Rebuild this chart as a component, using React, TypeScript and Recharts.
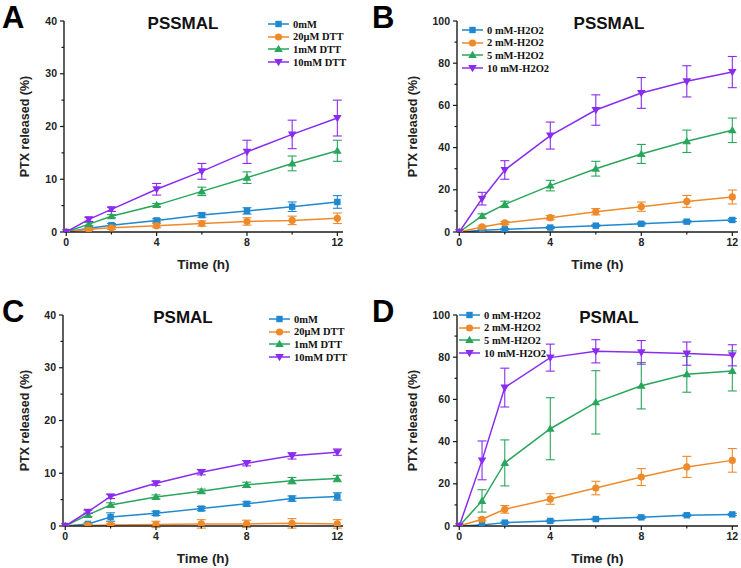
import React from "react"
import { LineChart, Line, XAxis, YAxis, ErrorBar } from "recharts"

const TIMES = [0, 1, 2, 4, 6, 8, 10, 12]

const DTT_LABELS = ["0mM", "20\u03bcM DTT", "1mM DTT", "10mM DTT"]
const H2O2_LABELS = ["0 mM-H2O2", "2 mM-H2O2", "5 mM-H2O2", "10 mM-H2O2"]

const COLORS = ["#1f88cf", "#ee8a2a", "#2aa65c", "#8a2cf0"]
const SHAPES = ["square", "circle", "up", "down"]

// A: PSSMAL + DTT
const A_0 = [0, 0.7, 1.3, 2.2, 3.2, 4.0, 4.8, 5.7]
const A_0_ERR = [0, 0.2, 0.3, 0.3, 0.4, 0.6, 0.9, 1.2]
const A_20U = [0, 0.5, 0.8, 1.2, 1.6, 2.0, 2.2, 2.6]
const A_20U_ERR = [0, 0.2, 0.3, 0.4, 0.5, 0.7, 0.8, 1.0]
const A_1M = [0, 1.5, 3.0, 5.1, 7.7, 10.3, 13.0, 15.4]
const A_1M_ERR = [0, 0.3, 0.3, 0.3, 0.8, 1.1, 1.4, 2.0]
const A_10M = [0, 2.4, 4.3, 8.1, 11.5, 15.2, 18.5, 21.6]
const A_10M_ERR = [0, 0.4, 0.4, 1.1, 1.5, 2.2, 2.7, 3.4]

// B: PSSMAL + H2O2
const B_0 = [0, 0.8, 1.3, 2.1, 3.0, 3.9, 4.9, 5.7]
const B_0_ERR = [0, 0.2, 0.3, 0.4, 0.4, 0.5, 0.6, 0.7]
const B_2 = [0, 2.4, 4.3, 6.8, 9.6, 12.0, 14.5, 16.6]
const B_2_ERR = [0, 0.5, 0.7, 1.0, 1.5, 2.2, 2.8, 3.3]
const B_5 = [0, 7.6, 13.1, 22.0, 30.0, 37.0, 43.0, 48.2]
const B_5_ERR = [0, 1.0, 1.5, 2.5, 3.5, 4.5, 5.3, 5.8]
const B_10 = [0, 15.8, 29.4, 45.7, 57.8, 65.9, 71.4, 75.8]
const B_10_ERR = [0, 3.0, 4.4, 6.4, 7.2, 7.3, 7.4, 7.4]

// C: PSMAL + DTT
const C_0 = [0, 0.4, 1.7, 2.4, 3.3, 4.2, 5.2, 5.6]
const C_0_ERR = [0, 0.2, 0.8, 0.4, 0.4, 0.4, 0.5, 0.7]
const C_20U = [0, 0.1, 0.2, 0.3, 0.4, 0.4, 0.5, 0.4]
const C_20U_ERR = [0, 0.2, 0.3, 0.6, 0.8, 0.7, 0.9, 0.8]
const C_1M = [0, 2.1, 4.0, 5.5, 6.6, 7.8, 8.6, 9.0]
const C_1M_ERR = [0, 0.3, 0.4, 0.4, 0.4, 0.5, 0.6, 0.6]
const C_10M = [0, 2.7, 5.6, 8.1, 10.2, 11.9, 13.3, 14.0]
const C_10M_ERR = [0, 0.3, 0.4, 0.4, 0.5, 0.5, 0.6, 0.6]

// D: PSMAL + H2O2
const D_0 = [0, 0.5, 1.6, 2.4, 3.3, 4.1, 5.1, 5.5]
const D_0_ERR = [0, 0.2, 0.3, 0.4, 0.4, 0.5, 0.5, 0.5]
const D_2 = [0, 3.2, 7.9, 12.8, 18.0, 23.2, 28.0, 31.1]
const D_2_ERR = [0, 0.8, 1.8, 2.5, 3.2, 4.0, 5.0, 5.6]
const D_5 = [0, 11.9, 29.9, 46.1, 58.6, 66.5, 71.9, 73.5]
const D_5_ERR = [0, 5.3, 10.9, 14.7, 15.0, 11.0, 8.5, 9.5]
const D_10 = [0, 31.1, 65.6, 79.8, 82.8, 82.3, 81.7, 80.9]
const D_10_ERR = [0, 9.2, 9.2, 6.4, 5.5, 5.6, 5.5, 5.0]

const SANS = "'Liberation Sans', Arial, sans-serif"
const SERIF = "'Liberation Serif', 'Times New Roman', serif"
const AXIS = "#1a1a1a"

function buildRows(series: number[][], errs: number[][]) {
  return TIMES.map((t, i) => {
    const row: Record<string, number> = { t }
    series.forEach((s, k) => {
      row[`s${k}`] = s[i]
      row[`e${k}`] = errs[k][i]
    })
    return row
  })
}

function Marker({ shape, cx, cy, color }: { shape: string; cx: number; cy: number; color: string }) {
  if (shape === "square")
    return <rect x={cx - 3.2} y={cy - 3.2} width={6.4} height={6.4} fill={color} />
  if (shape === "circle") return <circle cx={cx} cy={cy} r={3.6} fill={color} />
  if (shape === "up")
    return <path d={`M${cx},${cy - 4.3} L${cx + 4.3},${cy + 3} L${cx - 4.3},${cy + 3} Z`} fill={color} />
  return <path d={`M${cx},${cy + 4.3} L${cx + 4.3},${cy - 3} L${cx - 4.3},${cy - 3} Z`} fill={color} />
}

interface PanelProps {
  letter: string
  title: string
  labels: string[]
  series: number[][]
  errs: number[][]
  yMax: number
  yStep: number
  left: number
  top: number
  width: number
  height: number
  plotLeft: number
  plotRight: number
  legendX: number
  legendY: number
  titleX: number
  yLabelX: number
}

function Panel(p: PanelProps) {
  const rows = buildRows(p.series, p.errs)
  const yTicks: number[] = []
  for (let v = 0; v <= p.yMax; v += p.yStep / 2) yTicks.push(v)
  const xTicks = [0, 2, 4, 6, 8, 10, 12]
  const plotTop = 21
  const plotBottom = 232
  const yAxisWidth = p.plotLeft - 16
  const xAxisHeight = p.height - plotBottom

  const yTick = (props: any) => {
    const { x, y, payload } = props
    const major = payload.value % p.yStep === 0
    return (
      <g>
        <line x1={x} x2={x - (major ? 4 : 2.5)} y1={y} y2={y} stroke={AXIS} strokeWidth={1.2} />
        {major && (
          <text x={x - 7} y={y + 3.6} textAnchor="end" fontSize={10.5} fontWeight="bold" fontFamily={SANS} fill="#222">
            {payload.value}
          </text>
        )}
      </g>
    )
  }

  const xTick = (props: any) => {
    const { x, y, payload } = props
    const major = payload.value % 4 === 0
    return (
      <g>
        <line x1={x} x2={x} y1={y} y2={y + (major ? 4 : 2.5)} stroke={AXIS} strokeWidth={1.2} />
        {major && (
          <text x={x} y={y + 14} textAnchor="middle" fontSize={10.5} fontWeight="bold" fontFamily={SANS} fill="#222">
            {payload.value}
          </text>
        )}
      </g>
    )
  }

  return (
    <div style={{ position: "absolute", left: p.left, top: p.top, width: p.width, height: p.height }}>
      <LineChart
        width={p.width}
        height={p.height}
        data={rows}
        margin={{ top: plotTop, right: p.width - p.plotRight, bottom: 0, left: 16 }}
      >
        <XAxis
          dataKey="t"
          type="number"
          domain={[-0.1, 12.25]}
          ticks={xTicks}
          interval={0}
          tick={xTick}
          tickSize={0}
          tickMargin={0}
          tickLine={false}
          height={xAxisHeight}
          axisLine={{ stroke: AXIS, strokeWidth: 1.4 }}
          label={{
            value: "Time (h)",
            position: "insideBottom",
            offset: p.height - 269,
            style: { fontFamily: SANS, fontWeight: "bold", fontSize: 13.5, fill: "#222" },
          }}
        />
        <YAxis
          type="number"
          domain={[0, p.yMax]}
          allowDataOverflow
          ticks={yTicks}
          interval={0}
          tick={yTick}
          tickSize={0}
          tickMargin={0}
          tickLine={false}
          width={yAxisWidth}
          axisLine={{ stroke: AXIS, strokeWidth: 1.4 }}
          label={{
            value: "PTX released (%)",
            angle: -90,
            position: "insideLeft",
            offset: p.yLabelX - 16,
            style: { textAnchor: "middle", fontFamily: SANS, fontWeight: "bold", fontSize: 12.5, fill: "#222" },
          }}
        />
        {p.series.map((_, k) => (
          <Line
            key={k}
            dataKey={`s${k}`}
            type="linear"
            stroke={COLORS[k]}
            strokeWidth={1.5}
            isAnimationActive={false}
            dot={(d: any) => (
              <Marker key={`d${k}-${d.index}`} shape={SHAPES[k]} cx={d.cx} cy={d.cy} color={COLORS[k]} />
            )}
            activeDot={false}
          >
            <ErrorBar dataKey={`e${k}`} direction="y" width={4.5} stroke={COLORS[k]} strokeWidth={1.1} isAnimationActive={false} />
          </Line>
        ))}
      </LineChart>
      <div
        style={{
          position: "absolute",
          left: 2,
          top: 3,
          fontFamily: SANS,
          fontWeight: "bold",
          fontSize: 31,
          lineHeight: "30px",
          color: "#000",
        }}
      >
        {p.letter}
      </div>
      <div
        style={{
          position: "absolute",
          left: p.titleX - 60,
          width: 120,
          top: 13,
          textAlign: "center",
          fontFamily: SANS,
          fontWeight: "bold",
          fontSize: 17,
          lineHeight: "22px",
          color: "#111",
        }}
      >
        {p.title}
      </div>
      <div style={{ position: "absolute", left: p.legendX, top: p.legendY }}>
        {p.labels.map((lab, k) => (
          <div key={lab} style={{ display: "flex", alignItems: "center", height: 12.6 }}>
            <svg width={24} height={12}>
              <line x1={1} x2={22} y1={6} y2={6} stroke={COLORS[k]} strokeWidth={1.5} />
              <Marker shape={SHAPES[k]} cx={11.5} cy={6} color={COLORS[k]} />
            </svg>
            <span
              style={{
                marginLeft: 2,
                fontFamily: SERIF,
                fontWeight: "bold",
                fontSize: 10.5,
                color: "#111",
                whiteSpace: "nowrap",
              }}
            >
              {lab}
            </span>
          </div>
        ))}
      </div>
    </div>
  )
}

export default function App() {
  return (
    <div style={{ position: "absolute", left: 0, top: 0, width: 741, height: 568, background: "#fff", overflow: "hidden" }}>
      <Panel
        letter="A"
        title="PSSMAL"
        labels={DTT_LABELS}
        series={[A_0, A_20U, A_1M, A_10M]}
        errs={[A_0_ERR, A_20U_ERR, A_1M_ERR, A_10M_ERR]}
        yMax={40}
        yStep={10}
        left={0}
        top={0}
        width={370}
        height={284}
        plotLeft={64}
        plotRight={343}
        legendX={267}
        legendY={18}
        titleX={183}
        yLabelX={25}
      />
      <Panel
        letter="B"
        title="PSSMAL"
        labels={H2O2_LABELS}
        series={[B_0, B_2, B_5, B_10]}
        errs={[B_0_ERR, B_2_ERR, B_5_ERR, B_10_ERR]}
        yMax={100}
        yStep={20}
        left={370}
        top={0}
        width={371}
        height={284}
        plotLeft={87}
        plotRight={368}
        legendX={91}
        legendY={24}
        titleX={239}
        yLabelX={43}
      />
      <Panel
        letter="C"
        title="PSMAL"
        labels={DTT_LABELS}
        series={[C_0, C_20U, C_1M, C_10M]}
        errs={[C_0_ERR, C_20U_ERR, C_1M_ERR, C_10M_ERR]}
        yMax={40}
        yStep={10}
        left={0}
        top={294}
        width={370}
        height={274}
        plotLeft={63}
        plotRight={343}
        legendX={268}
        legendY={19}
        titleX={183}
        yLabelX={25}
      />
      <Panel
        letter="D"
        title="PSMAL"
        labels={H2O2_LABELS}
        series={[D_0, D_2, D_5, D_10]}
        errs={[D_0_ERR, D_2_ERR, D_5_ERR, D_10_ERR]}
        yMax={100}
        yStep={20}
        left={370}
        top={294}
        width={371}
        height={274}
        plotLeft={87}
        plotRight={368}
        legendX={88}
        legendY={15}
        titleX={239}
        yLabelX={43}
      />
    </div>
  )
}
